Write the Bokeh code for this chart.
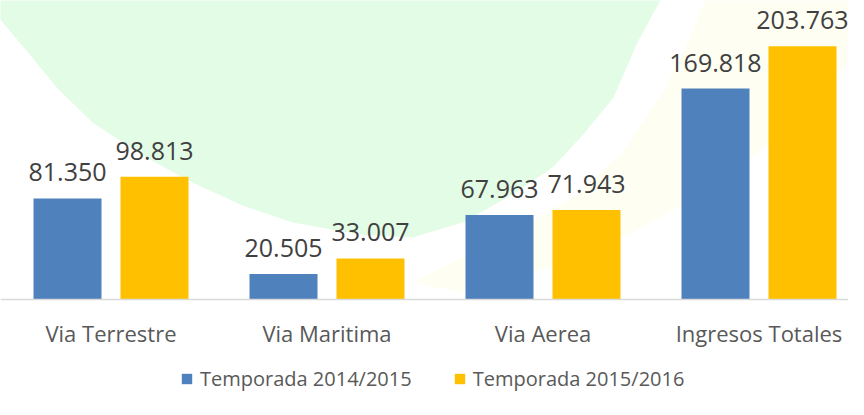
from bokeh.plotting import figure
from bokeh.models import ColumnDataSource, Range1d, Legend, LegendItem, LabelSet, Span
from bokeh.core.properties import value
from bokeh.embed import file_html
from bokeh.resources import INLINE

categories = ["Via Terrestre", "Via Maritima", "Via Aerea", "Ingresos Totales"]
series_names = ["Temporada 2014/2015", "Temporada 2015/2016"]
values_2014 = [81.350, 20.505, 67.963, 169.818]
values_2015 = [98.813, 33.007, 71.943, 203.763]
labels_2014 = ["81.350", "20.505", "67.963", "169.818"]
labels_2015 = ["98.813", "33.007", "71.943", "203.763"]
colors = ["#4F81BD", "#FFC000"]

# layout constants (pixels)
W, H = 848, 392
PX_PER_CAT = 216.0
FIRST_CENTER_PX = 110.5
BASE_PX = 299          # baseline position from top of figure
PX_PER_UNIT = 1.2425

x_start = 0.5 - FIRST_CENTER_PX / PX_PER_CAT
x_end = x_start + W / PX_PER_CAT
y_end = BASE_PX / PX_PER_UNIT
y_start = -(H - BASE_PX) / PX_PER_UNIT

centers = [i + 0.5 for i in range(len(categories))]
off = 43.5 / PX_PER_CAT
bw = 68.0 / PX_PER_CAT

p = figure(width=W, height=H, output_backend="svg", toolbar_location=None,
           x_range=Range1d(x_start, x_end), y_range=Range1d(y_start, y_end),
           min_border_left=0, min_border_right=0, min_border_top=0,
           min_border_bottom=0)
p.outline_line_color = None
p.background_fill_color = "white"
p.border_fill_color = "white"
p.xgrid.visible = False
p.ygrid.visible = False
p.xaxis.visible = False
p.yaxis.visible = False

# background decorative shapes (page coords -> data)
def dx(xw):
    return x_start + (xw - 8) / PX_PER_CAT
def dy(yw):
    return (BASE_PX + 8 - yw) / PX_PER_UNIT

green_pts = [(-5, 10), (0, 18), (33, 57), (66, 97), (100, 130), (150, 163), (200, 190),
             (250, 213), (300, 230), (367, 242), (420, 245), (470, 230), (520, 202),
             (560, 175), (590, 143), (621, 105), (645, 50), (672, 0), (690, -30), (-5, -30)]
yellow_pts = [(717, -5), (700, 40), (670, 100), (630, 160), (580, 205), (520, 240),
              (460, 270), (420, 290), (470, 300), (560, 275), (640, 240), (720, 195),
              (790, 140), (840, 90), (870, 50), (870, -5)]
p.patch([dx(a) for a, b in yellow_pts], [dy(b) for a, b in yellow_pts],
        fill_color="#FEFEF3", line_color=None)
p.patch([dx(a) for a, b in green_pts], [dy(b) for a, b in green_pts],
        fill_color="#E3FCE6", line_color=None)

src = ColumnDataSource(dict(
    c=centers, zero=[0] * len(centers), cat=categories,
    x1=[c - off for c in centers], x2=[c + off for c in centers],
    v1=values_2014, v2=values_2015, l1=labels_2014, l2=labels_2015))

r1 = p.vbar(x="x1", top="v1", width=bw, bottom=0, source=src,
            fill_color=colors[0], line_color=None)
r2 = p.vbar(x="x2", top="v2", width=bw, bottom=0, source=src,
            fill_color=colors[1], line_color=None)

# baseline (category axis line)
p.add_layout(Span(location=0, dimension="width", line_color="#D9D9D9", line_width=1.5))

# value labels
for xcol, vcol, lcol in [("x1", "v1", "l1"), ("x2", "v2", "l2")]:
    p.add_layout(LabelSet(x=xcol, y=vcol, text=lcol, source=src, y_offset=17,
                          text_align="center", text_baseline="alphabetic",
                          text_font=value("Open Sans"), text_font_size="25px",
                          text_color="#404040"))

# category labels
p.add_layout(LabelSet(x="c", y="zero", text="cat", source=src, y_offset=-42,
                      text_align="center", text_baseline="alphabetic",
                      text_font=value("Open Sans"), text_font_size="22px",
                      text_color="#595959"))

legend = Legend(items=[LegendItem(label=series_names[0], renderers=[r1]),
                       LegendItem(label=series_names[1], renderers=[r2])],
                orientation="horizontal", location=(180, 0),
                glyph_width=13, glyph_height=13, label_standoff=7, spacing=41,
                padding=0, margin=0, border_line_color=None, background_fill_alpha=0,
                label_text_font="Open Sans", label_text_font_size="20px",
                label_text_color="#595959")
p.add_layout(legend, "center")

open("out.html", "w").write(file_html(p, INLINE))
